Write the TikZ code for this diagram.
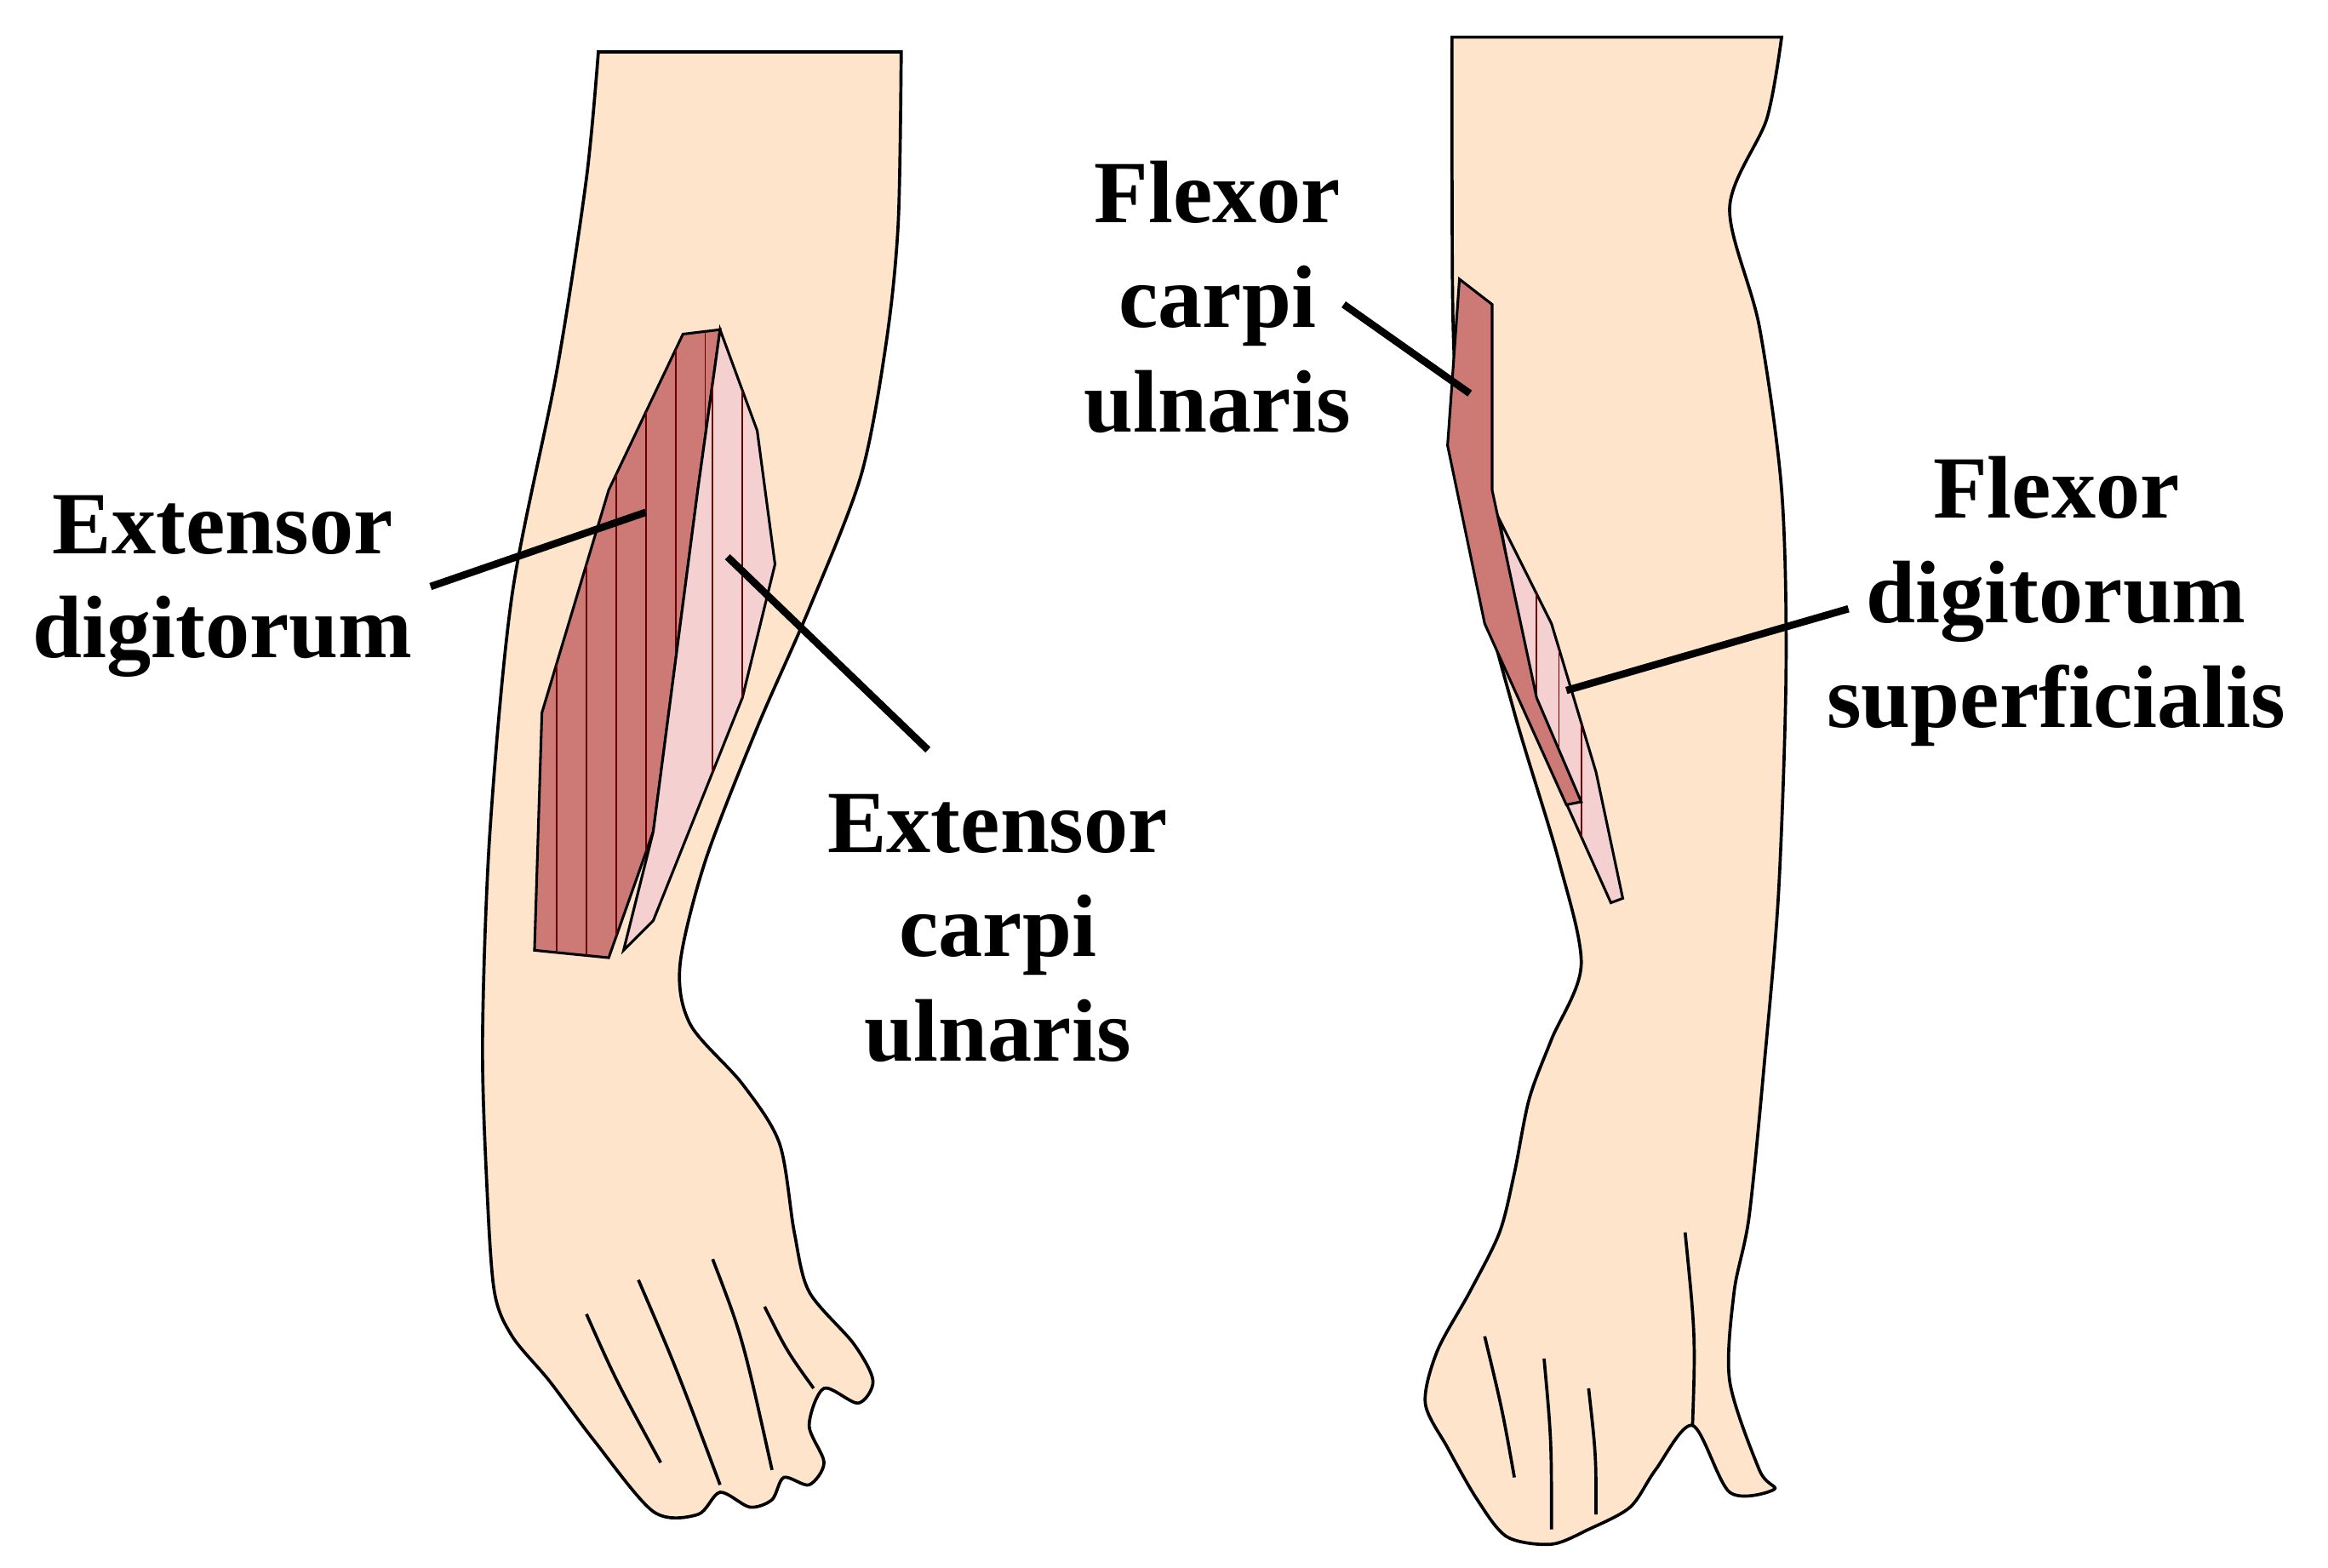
\documentclass[tikz,border=0pt]{standalone}
\usepackage{fontspec}
\setmainfont{Liberation Serif}
\begin{document}
\begin{tikzpicture}[x=0.01cm,y=-0.01cm,
 skin/.style={fill=skinc,draw=black,line width=0.6pt},
 dark/.style={fill=mdark,draw=black,line width=0.5pt},
 light/.style={fill=mlight,draw=black,line width=0.5pt},
 lead/.style={line width=1.4pt},
 lab/.style={font=\fontsize{17}{20}\selectfont\bfseries,align=center}]
\definecolor{skinc}{HTML}{FDE4CA}
\definecolor{mdark}{HTML}{CD7A77}
\definecolor{mlight}{HTML}{F4D0D0}
\useasboundingbox (0,0) rectangle (1568,1056);
\fill[white] (0,0) rectangle (1568,1056);
% left arm
\draw[skin] plot[smooth,tension=0.5] coordinates{(607,35)(605,150)(597,230)(580,320)(545,410)(510,490)(475,580)(458,650)(465,690)(500,730)(525,770)(535,830)(545,870)(575,905)(588,930)(578,945)(555,935)(545,960)(555,985)(545,1000)(528,995)(520,1010)(505,1015)(485,1005)(470,1020)(440,1018)(400,970)(370,930)(345,900)(333,870)(328,800)(325,700)(330,560)(345,400)(375,250)(395,120)(403,35)} -- cycle;
\draw[line width=0.6pt] (395,885) .. controls (415,930) .. (445,985);
\draw[line width=0.6pt] (430,862) .. controls (455,920) .. (485,1000);
\draw[line width=0.6pt] (480,848) .. controls (500,900) .. (520,990);
\draw[line width=0.6pt] (515,880) .. controls (530,910) .. (548,935);
% left muscles
\draw[dark] (460,225) -- (485,222) -- (470,330) -- (440,560) -- (410,645) -- (360,640) -- (365,480) -- (410,330) -- cycle;
\begin{scope}
\clip (460,225) -- (485,222) -- (470,330) -- (440,560) -- (410,645) -- (360,640) -- (365,480) -- (410,330) -- cycle;
\foreach \x in {375,395,...,475} \draw[line width=0.3pt,black!60!red] (\x,200) -- (\x,660);
\end{scope}
\draw[light] (485,222) -- (510,290) -- (522,380) -- (500,470) -- (440,620) -- (420,640) -- (440,560) -- (470,330) -- cycle;
\begin{scope}
\clip (485,222) -- (510,290) -- (522,380) -- (500,470) -- (440,620) -- (420,640) -- (440,560) -- (470,330) -- cycle;
\foreach \x in {480,500} \draw[line width=0.3pt,black!60!red] (\x,200) -- (\x,660);
\end{scope}
% right arm
\draw[skin] plot[smooth,tension=0.5] coordinates{(1200,25)(1190,80)(1165,140)(1185,220)(1200,330)(1203,450)(1198,600)(1188,720)(1178,820)(1168,870)(1165,930)(1185,990)(1195,1003)(1165,1005)(1140,960)(1115,990)(1098,1015)(1070,1030)(1045,1040)(1015,1035)(995,1010)(975,975)(960,945)(968,910)(990,870)(1010,830)(1020,790)(1030,740)(1045,700)(1065,650)(1050,580)(1020,480)(995,380)(980,250)(978,120)(978,25)} -- cycle;
\draw[line width=0.6pt] (1000,900) .. controls (1012,950) .. (1020,995);
\draw[line width=0.6pt] (1040,915) .. controls (1045,970) .. (1045,1030);
\draw[line width=0.6pt] (1070,935) .. controls (1075,980) .. (1075,1020);
\draw[line width=0.6pt] (1135,830) .. controls (1142,900) .. (1140,960);
% right muscles
\draw[light] (1010,350) -- (1045,420) -- (1075,520) -- (1093,605) -- (1085,608) -- (1050,530) -- (1030,460) -- cycle;
\begin{scope}
\clip (1010,350) -- (1045,420) -- (1075,520) -- (1093,605) -- (1085,608) -- (1050,530) -- (1030,460) -- cycle;
\foreach \x in {1035,1050,1065} \draw[line width=0.3pt,black!60!red] (\x,340) -- (\x,620);
\end{scope}
\draw[dark] (983,188) -- (1005,205) -- (1005,330) -- (1035,470) -- (1065,540) -- (1055,542) -- (1000,420) -- (975,300) -- cycle;
% labels
\node[lab] (ed) at (150,395) {Extensor\\digitorum};
\node[lab] (ecu) at (672,625) {Extensor\\carpi\\ulnaris};
\node[lab] (fcu) at (820,200) {Flexor\\carpi\\ulnaris};
\node[lab] (fds) at (1385,405) {Flexor\\digitorum\\superficialis};
\coordinate (edm) at (435,345);
\coordinate (ecum) at (490,375);
\coordinate (fcum) at (990,265);
\coordinate (fdsm) at (1055,465);
\draw[lead] (290,395) -- (edm);
\draw[lead] (625,505) -- (ecum);
\draw[lead] (905,205) -- (fcum);
\draw[lead] (1245,410) -- (fdsm);
\end{tikzpicture}
\end{document}
